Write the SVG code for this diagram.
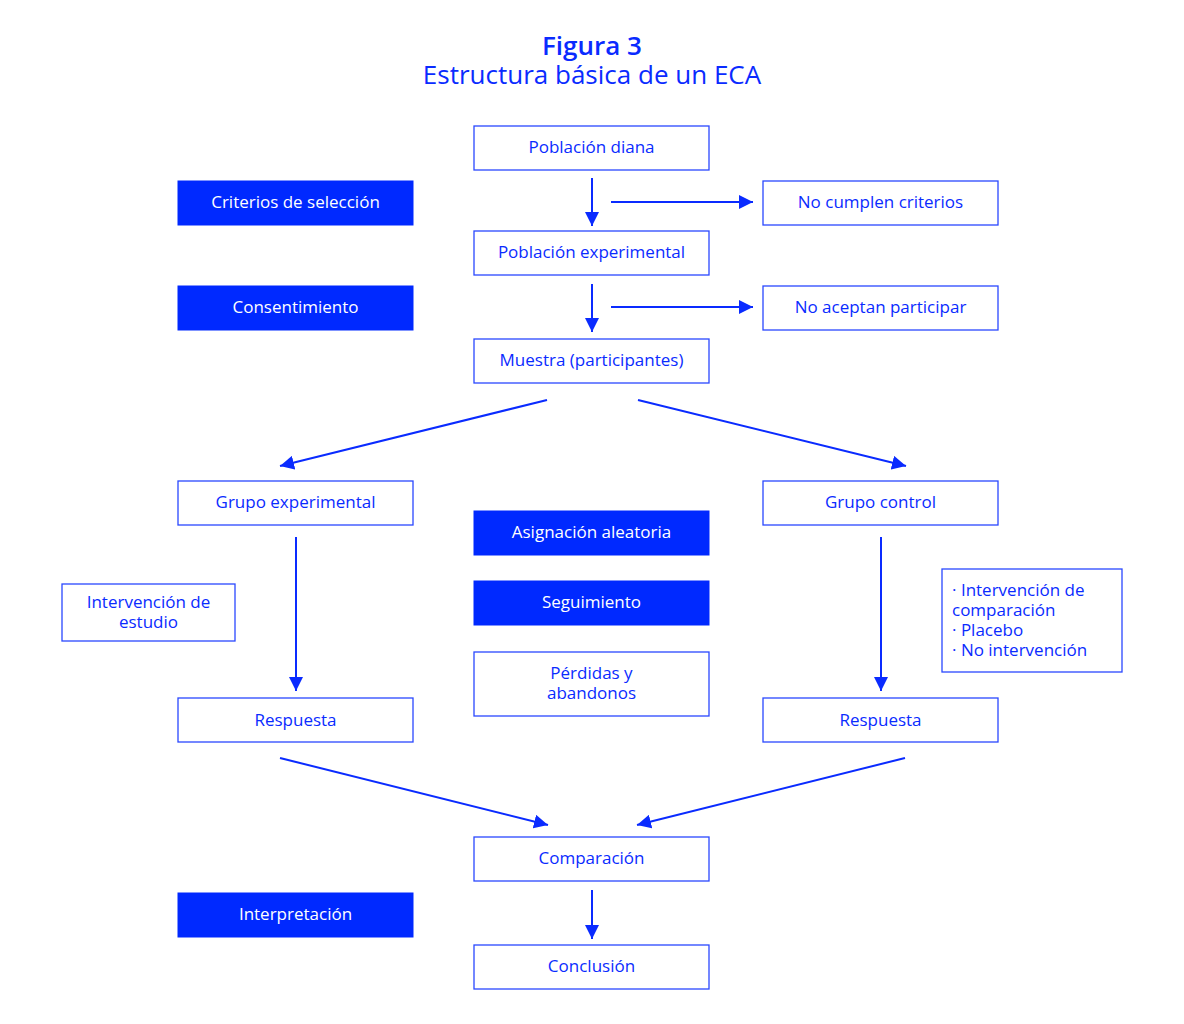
<svg xmlns="http://www.w3.org/2000/svg" width="1184" height="1024" viewBox="0 0 1184 1024">
<style>
.b{fill:#fff;stroke:#2a48ff;stroke-width:1.3}
.f{fill:#0029ff;stroke:#0029ff;stroke-width:1}
text{font-family:"Open Sans","Noto Sans","Liberation Sans",sans-serif;font-size:17px;fill:#0a2bff;text-anchor:middle}
.w{fill:#fff}
.l{text-anchor:start}
.c line{stroke:#0a2bff;stroke-width:2}
</style>
<defs>
<marker id="a" viewBox="0 0 10 10" refX="10" refY="5" markerWidth="7" markerHeight="7" orient="auto" markerUnits="strokeWidth">
<path d="M0,0 L10,5 L0,10 z" fill="#0a2bff"/>
</marker>
</defs>
<g id="title">
<text x="592" y="55" style="font-size:26px;font-weight:600">Figura 3</text>
<text x="592" y="84" style="font-size:26px">Estructura básica de un ECA</text>
</g>
<g id="n1"><rect class="b" x="474" y="126" width="235" height="44"/><text x="591.5" y="153">Población diana</text></g>
<g id="n2"><rect class="f" x="178" y="181" width="235" height="44"/><text class="w" x="295.5" y="208">Criterios de selección</text></g>
<g id="n3"><rect class="b" x="763" y="181" width="235" height="44"/><text x="880.5" y="208">No cumplen criterios</text></g>
<g id="n4"><rect class="b" x="474" y="231" width="235" height="44"/><text x="591.5" y="258">Población experimental</text></g>
<g id="n5"><rect class="f" x="178" y="286" width="235" height="44"/><text class="w" x="295.5" y="313">Consentimiento</text></g>
<g id="n6"><rect class="b" x="763" y="286" width="235" height="44"/><text x="880.5" y="313">No aceptan participar</text></g>
<g id="n7"><rect class="b" x="474" y="339" width="235" height="44"/><text x="591.5" y="366">Muestra (participantes)</text></g>
<g id="n8"><rect class="b" x="178" y="481" width="235" height="44"/><text x="295.5" y="508">Grupo experimental</text></g>
<g id="n9"><rect class="b" x="763" y="481" width="235" height="44"/><text x="880.5" y="508">Grupo control</text></g>
<g id="n10"><rect class="f" x="474" y="511" width="235" height="44"/><text class="w" x="591.5" y="538">Asignación aleatoria</text></g>
<g id="n11"><rect class="f" x="474" y="581" width="235" height="44"/><text class="w" x="591.5" y="608">Seguimiento</text></g>
<g id="n12"><rect class="b" x="474" y="652" width="235" height="64"/><text x="591.5" y="679">Pérdidas y</text><text x="591.5" y="699">abandonos</text></g>
<g id="n13"><rect class="b" x="62" y="584" width="173" height="57"/><text x="148.5" y="608">Intervención de</text><text x="148.5" y="628">estudio</text></g>
<g id="n14"><rect class="b" x="942" y="569" width="180" height="103"/>
<text class="l" x="952" y="596">· Intervención de</text>
<text class="l" x="952" y="616">comparación</text>
<text class="l" x="952" y="636">· Placebo</text>
<text class="l" x="952" y="656">· No  intervención</text></g>
<g id="n15"><rect class="b" x="178" y="698" width="235" height="44"/><text x="295.5" y="726">Respuesta</text></g>
<g id="n16"><rect class="b" x="763" y="698" width="235" height="44"/><text x="880.5" y="726">Respuesta</text></g>
<g id="n17"><rect class="b" x="474" y="837" width="235" height="44"/><text x="591.5" y="864">Comparación</text></g>
<g id="n18"><rect class="f" x="178" y="893" width="235" height="44"/><text class="w" x="295.5" y="920">Interpretación</text></g>
<g id="n19"><rect class="b" x="474" y="945" width="235" height="44"/><text x="591.5" y="972">Conclusión</text></g>
<g id="connectors" class="c">
<line x1="592" y1="178" x2="592" y2="226" marker-end="url(#a)"/>
<line x1="611" y1="202" x2="753" y2="202" marker-end="url(#a)"/>
<line x1="592" y1="284" x2="592" y2="332" marker-end="url(#a)"/>
<line x1="611" y1="307" x2="753" y2="307" marker-end="url(#a)"/>
<line x1="547" y1="400" x2="280" y2="466" marker-end="url(#a)"/>
<line x1="638" y1="400" x2="906" y2="466" marker-end="url(#a)"/>
<line x1="296" y1="537" x2="296" y2="691" marker-end="url(#a)"/>
<line x1="881" y1="537" x2="881" y2="691" marker-end="url(#a)"/>
<line x1="280" y1="758" x2="548" y2="825" marker-end="url(#a)"/>
<line x1="905" y1="758" x2="637" y2="825" marker-end="url(#a)"/>
<line x1="592" y1="890" x2="592" y2="939" marker-end="url(#a)"/>
</g>
</svg>
